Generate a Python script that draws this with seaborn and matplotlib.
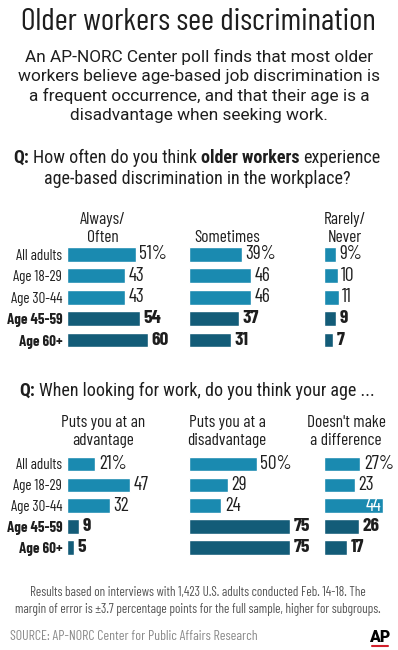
import numpy as np
import pandas as pd
import matplotlib
matplotlib.use("Agg")
import matplotlib.pyplot as plt
import seaborn as sns

# ---------------- data ----------------
groups = ["All adults", "Age 18-29", "Age 30-44", "Age 45-59", "Age 60+"]
bold_groups = ["Age 45-59", "Age 60+"]

q1_headers = ["Always/\nOften", "Sometimes", "Rarely/\nNever"]
q1_always = [51, 43, 43, 54, 60]
q1_sometimes = [39, 46, 46, 37, 31]
q1_rarely = [9, 10, 11, 9, 7]

q2_headers = ["Puts you at an\nadvantage", "Puts you at a\ndisadvantage", "Doesn't make\na difference"]
q2_advantage = [21, 47, 32, 9, 5]
q2_disadvantage = [50, 29, 24, 75, 75]
q2_nodiff = [27, 23, 44, 26, 17]

title = "Older workers see discrimination"
subtitle = ("An AP-NORC Center poll finds that most older\n"
            "workers believe age-based job discrimination is\n"
            "a frequent occurrence, and that their age is a\n"
            "disadvantage when seeking work.")
note = ("Results based on interviews with 1,423 U.S. adults conducted Feb. 14-18. The\n"
        "margin of error is \u00b13.7 percentage points for the full sample, higher for subgroups.")
source = "SOURCE: AP-NORC Center for Public Affairs Research"

# ---------------- style ----------------
sns.set_theme(style="white")
NARROW = ["Roboto Condensed", "DejaVu Sans"]
COND = ["Barlow Condensed", "Roboto Condensed", "DejaVu Sans"]
SUB = ["Roboto", "DejaVu Sans"]
plt.rcParams["font.family"] = NARROW
TXT = "#1e1e1e"
LIGHT = "#1a8ab0"
DARK = "#135c78"
palette = {g: (DARK if g in bold_groups else LIGHT) for g in groups}

W, H = 398, 650
fig = plt.figure(figsize=(W / 100, H / 100), dpi=100)
fig.patch.set_facecolor("white")
R = fig.canvas.get_renderer()


def fx(px):
    return px / W


def fy(py):
    return 1 - py / H


def fit(t, target):
    w = t.get_window_extent(R).width
    t.set_fontsize(t.get_fontsize() * target / w)
    return t


def size_for(text, target, family, weight="normal", base=10.0):
    t = fig.text(0, 0, text, fontsize=base, family=family, fontweight=weight)
    w = t.get_window_extent(R).width
    t.remove()
    return base * target / w


LABEL_SIZE = size_for("All adults", 46, COND)
VALUE_SIZE = size_for("43", 16, COND)
HEAD_SIZE = size_for("Sometimes", 66, COND)
SCALE = 1.35  # pixels per percentage point


def panel(left, top, bottom, width, values, show_groups):
    ax = fig.add_axes([fx(left), fy(bottom), width / W, (bottom - top) / H])
    df = pd.DataFrame({"group": groups, "value": values})
    sns.barplot(data=df, x="value", y="group", hue="group", palette=palette,
                width=0.7, saturation=1, legend=False, orient="h", ax=ax)
    ax.set_xlim(0, width / SCALE)
    ax.set_ylim(len(groups) - 0.5, -0.5)
    ax.set_xlabel("")
    ax.set_ylabel("")
    ax.set_xticks([])
    for s in ax.spines.values():
        s.set_visible(False)
    ax.set_facecolor("none")
    if show_groups:
        ax.tick_params(axis="y", length=0, pad=3.5)
        for lbl in ax.get_yticklabels():
            lbl.set_fontfamily(COND)
            lbl.set_fontsize(LABEL_SIZE)
            lbl.set_color(TXT)
            if lbl.get_text() in bold_groups:
                lbl.set_fontweight("bold")
    else:
        ax.set_yticks([])
    for i, (g, v) in enumerate(zip(groups, values)):
        label = f"{v}%" if i == 0 else str(v)
        weight = "bold" if g in bold_groups else "normal"
        inside = v * SCALE + 20 > width
        if inside:
            ax.annotate(label, (v, i), xytext=(-1.5, 0), textcoords="offset points",
                        ha="right", va="center", color="white", fontsize=VALUE_SIZE,
                        fontweight=weight, family=COND)
        else:
            ax.annotate(label, (v, i), xytext=(2.5, 0), textcoords="offset points",
                        ha="left", va="center", color=TXT, fontsize=VALUE_SIZE,
                        fontweight=weight, family=COND)
    return ax


def rich_line(cx, y, parts, size, family=NARROW, color=TXT, target=None):
    texts = []
    for s, w in parts:
        t = fig.text(0, fy(y), s, fontsize=size, family=family, fontweight=w,
                     ha="left", va="center", color=color)
        texts.append(t)

    def layout():
        sz = texts[0].get_fontsize()
        p1 = fig.text(0, 0, "a a", fontsize=sz, family=family)
        p2 = fig.text(0, 0, "aa", fontsize=sz, family=family)
        gap = p1.get_window_extent(R).width - p2.get_window_extent(R).width
        p1.remove()
        p2.remove()
        widths = [t.get_window_extent(R).width for t in texts]
        return gap, widths, sum(widths) + gap * (len(texts) - 1)

    gap, widths, total = layout()
    if target is not None:
        for t in texts:
            t.set_fontsize(t.get_fontsize() * target / total)
        gap, widths, total = layout()
    x = cx - total / 2
    for t, w in zip(texts, widths):
        t.set_x(fx(x))
        x += w + gap
    return texts[0].get_fontsize()


# ---------------- header text ----------------
tt = fig.text(fx(198), fy(22), title, ha="center", va="center", fontsize=22,
              family=COND, color=TXT)
fit(tt, 355)
st = fig.text(fx(199), fy(86), subtitle, ha="center", va="center", fontsize=12,
              family=SUB, color=TXT, linespacing=1.3)
fit(st, 363)

qs = rich_line(197, 158, [("Q:", "bold"), ("How often do you think", "normal"),
                          ("older workers", "bold"), ("experience", "normal")], 12.5, target=370)
rich_line(197, 179, [("age-based discrimination in the workplace?", "normal")], qs)

# ---------------- chart 1 ----------------
t1, b1 = 243.8, 350.7
panel(67, t1, b1, 115, q1_always, True)
panel(189, t1, b1, 125, q1_sometimes, False)
panel(324, t1, b1, 70, q1_rarely, False)
for cx, h in zip([103, 227, 345], q1_headers):
    fig.text(fx(cx), fy(242), h, ha="center", va="baseline", fontsize=HEAD_SIZE,
             family=COND, color=TXT, linespacing=1.25)

# ---------------- chart 2 ----------------
rich_line(197, 391, [("Q:", "bold"), ("When looking for work, do you think your age ...", "normal")], qs)
t2, b2 = 453.5, 558
panel(67, t2, b2, 115, q2_advantage, True)
panel(189, t2, b2, 125, q2_disadvantage, False)
panel(324, t2, b2, 70, q2_nodiff, False)
for cx, h in zip([103, 227, 346], q2_headers):
    fig.text(fx(cx), fy(445), h, ha="center", va="baseline", fontsize=HEAD_SIZE,
             family=COND, color=TXT, linespacing=1.25)

# ---------------- footer ----------------
nt = fig.text(fx(198), fy(601), note, ha="center", va="center", fontsize=8.5,
              family=COND, color="#555555", linespacing=1.35)
fit(nt, 370)
sc = fig.text(fx(10), fy(637), source, ha="left", va="center", fontsize=10,
              family=COND, color="#8a8a8a")
fit(sc, 248)
fig.text(fx(380), fy(637), "AP", ha="center", va="center", fontsize=11.5,
         family=["Roboto", "DejaVu Sans"], fontweight="heavy", color="black")
fig.add_artist(plt.Line2D([fx(372), fx(388)], [fy(646), fy(646)],
                          color="#d21f2b", lw=1.5))

fig.savefig("out.png", dpi=100, facecolor="white")
